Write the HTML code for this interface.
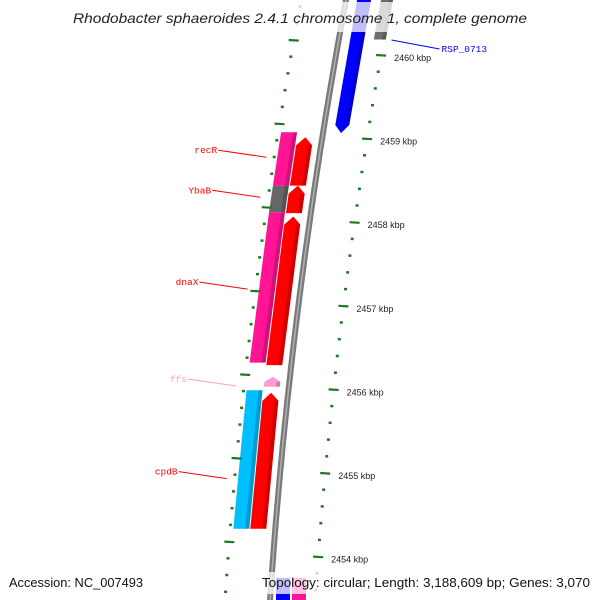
<!DOCTYPE html>
<html><head><meta charset="utf-8"><style>
html,body{margin:0;padding:0;background:#fff;}
svg{display:block;font-family:"Liberation Sans","DejaVu Sans",sans-serif;}
</style></head><body>
<svg id="map" width="600" height="600" viewBox="0 0 600 600">
<g id="rings"></g>
<g id="ticks"></g>
<g id="labels"></g>
<rect x="66" y="2" width="468" height="30" fill="#fff" opacity="0.75"/>
<text x="300" y="23" text-anchor="middle" font-size="14" font-style="italic" fill="#222" textLength="454" lengthAdjust="spacingAndGlyphs">Rhodobacter sphaeroides 2.4.1 chromosome 1, complete genome</text>
<g id="bottom"></g>
<rect x="258" y="572" width="336" height="22" fill="#fff" opacity="0.75"/>
<text x="9" y="587" font-size="12.5" fill="#111" textLength="134" lengthAdjust="spacingAndGlyphs">Accession: NC_007493</text>
<text x="262" y="587" font-size="12.5" fill="#111" textLength="328" lengthAdjust="spacingAndGlyphs">Topology: circular; Length: 3,188,609 bp; Genes: 3,070</text>
</svg>
<script>
// feature data (kbp positions)
const featNames = ["RSP_0713","top-gray","recR-cds","ybaB-cds","dnaX-cds","cpdB-cds","recR","YbaB","dnaX","ffs","cpdB"];
const featStart = [2460.70,2460.70,2458.46,2458.13,2456.31,2454.35,2458.46,2458.14,2456.34,2456.05,2454.35];
const featEnd   = [2459.09,2460.21,2459.04,2458.46,2458.09,2455.98,2459.10,2458.46,2458.14,2456.17,2456.01];
const featRing  = ["blue","gray2","red","red","red","red","pink","pink","pink","red","pink"];
const featColor = ["#0000ff","#6e6e6e","#ff0000","#ff0000","#ff0000","#ff0000","#ff1493","#666666","#ff1493","#ff9ccf","#00bfff"];
const featArrow = ["down","none","up","up","up","up","none","none","none","up","none"];
// outer tick labels
const kbpLabels = [2460,2459,2458,2457,2456,2455,2454];
// gene labels
const geneLabelText = ["recR","YbaB","dnaX","ffs","cpdB","RSP_0713"];
const geneLabelKbp  = [2458.80,2458.32,2457.22,2456.06,2454.95,2460.12];
const geneLabelColor= ["#ff0000","#ff0000","#ff0000","#ff9ccf","#ff0000","#0000ff"];
const geneLabelSide = ["left","left","left","left","left","right"];

const NS="http://www.w3.org/2000/svg";
function xb(y){return 346-0.186*y+0.000099*y*y;}
function yK(k){return 57+(2460-k)*83.5;}
const ringOff={blue:18,gray2:41,red:-17,pink:-34};
const ringW={blue:14,gray2:12,red:16,pink:16};
function mk(tag,attrs,parent){const e=document.createElementNS(NS,tag);for(const k in attrs)e.setAttribute(k,attrs[k]);parent.appendChild(e);return e;}

const rings=document.getElementById('rings');
let pts=[];for(let y=-5;y<=605;y+=5)pts.push((xb(y)).toFixed(1)+","+y);
let bb=mk('polyline',{points:pts.join(' '),fill:'none',stroke:'#7a7a7a','stroke-width':6},rings);


let bb2=mk('polyline',{points:pts.join(' '),fill:'none',stroke:'#b0b0b0','stroke-width':1.5},rings);



function edge(y,off){return xb(y)+off;}
for(let i=0;i<featNames.length;i++){
  const o=ringOff[featRing[i]],w=ringW[featRing[i]];
  let ya=yK(featEnd[i]),yb=yK(featStart[i]);
  let y1=Math.min(ya,yb),y2=Math.max(ya,yb);
  if(y1<2)y1=-5;
  const L=o-w/2,R=o+w/2,h=Math.min(8,(y2-y1)/2);
  let p;
  if(featArrow[i]==="up"){
    p=[[edge(y1+h,L),y1+h],[edge(y1,o),y1],[edge(y1+h,R),y1+h],[edge(y2,R),y2],[edge(y2,L),y2]];
  }else if(featArrow[i]==="down"){
    p=[[edge(y1,L),y1],[edge(y1,R),y1],[edge(y2-h,R),y2-h],[edge(y2,o),y2],[edge(y2-h,L),y2-h]];
  }else{
    p=[[edge(y1,L),y1],[edge(y1,R),y1],[edge(y2,R),y2],[edge(y2,L),y2]];
  }
  const g=mk('g',{},rings);
  
  
  mk('polygon',{points:p.map(q=>q[0].toFixed(1)+','+q[1].toFixed(1)).join(' '),fill:featColor[i]},g);
  const ys=featArrow[i]==="up"?y1+h:y1, ye=featArrow[i]==="down"?y2-h:y2;
  const s=[[edge(ys,R-4),ys],[edge(ys,R),ys],[edge(ye,R),ye],[edge(ye,R-4),ye]];
  mk('polygon',{points:s.map(q=>q[0].toFixed(1)+','+q[1].toFixed(1)).join(' '),fill:'#000',opacity:0.18},g);
}

const ticks=document.getElementById('ticks');
function tickRing(off,y0,name){
  for(let j=-3;j<40;j++){
    const y=y0+j*83.6/5;if(y<-2||y>602)continue;
    const big=(j%5===0);
    const x=xb(y)+off;
    const t=mk('line',{x1:(x-(big?5:1.5)).toFixed(1),y1:y.toFixed(1),x2:(x+(big?5:1.5)).toFixed(1),y2:(y+(big?0.6:0)).toFixed(1),stroke:'#1f7a1f','stroke-width':big?2.2:2.5},ticks);
    
    
  }
}
tickRing(-45,40,'inner');
tickRing(45,55,'outer');
kbpLabels.forEach(k=>{
  const y=55+(2460-k)*83.6;
  const t=mk('text',{x:(xb(y)+58).toFixed(1),y:(y+6).toFixed(1),'font-size':9,fill:'#222'},ticks);
  t.textContent=k+' kbp';
  
  
});

const labels=document.getElementById('labels');
for(let i=0;i<geneLabelText.length;i++){
  const y=yK(geneLabelKbp[i]);
  const col=geneLabelColor[i];
  const g=mk('g',{},labels);
  
  
  if(geneLabelSide[i]==="left"){
    const x2=xb(y)-53, x1=x2-48;
    mk('line',{x1:x1,y1:y-7,x2:x2,y2:y,stroke:col,'stroke-width':1},g);
    const t=mk('text',{x:x1-1,y:y-4,'text-anchor':'end','font-size':9.5,'font-family':'"Liberation Mono","DejaVu Sans Mono",monospace',fill:col},g);t.textContent=geneLabelText[i];
  }else{
    const x1=xb(y)+54, x2=x1+48;
    mk('line',{x1:x1,y1:y-7,x2:x2,y2:y+2,stroke:col,'stroke-width':1},g);
    const t=mk('text',{x:x2+2,y:y+5,'font-size':9.5,'font-family':'"Liberation Mono","DejaVu Sans Mono",monospace',fill:col},g);t.textContent=geneLabelText[i];
  }
}

const bottom=document.getElementById('bottom');
const bc=[["#0000ff",276,290],["#ff1493",292,306]];
bc.forEach((b,i)=>{
  const r=mk('rect',{x:b[1],y:578,width:b[2]-b[1],height:24,fill:b[0]},bottom);
  
  
});
</script>
</body></html>
